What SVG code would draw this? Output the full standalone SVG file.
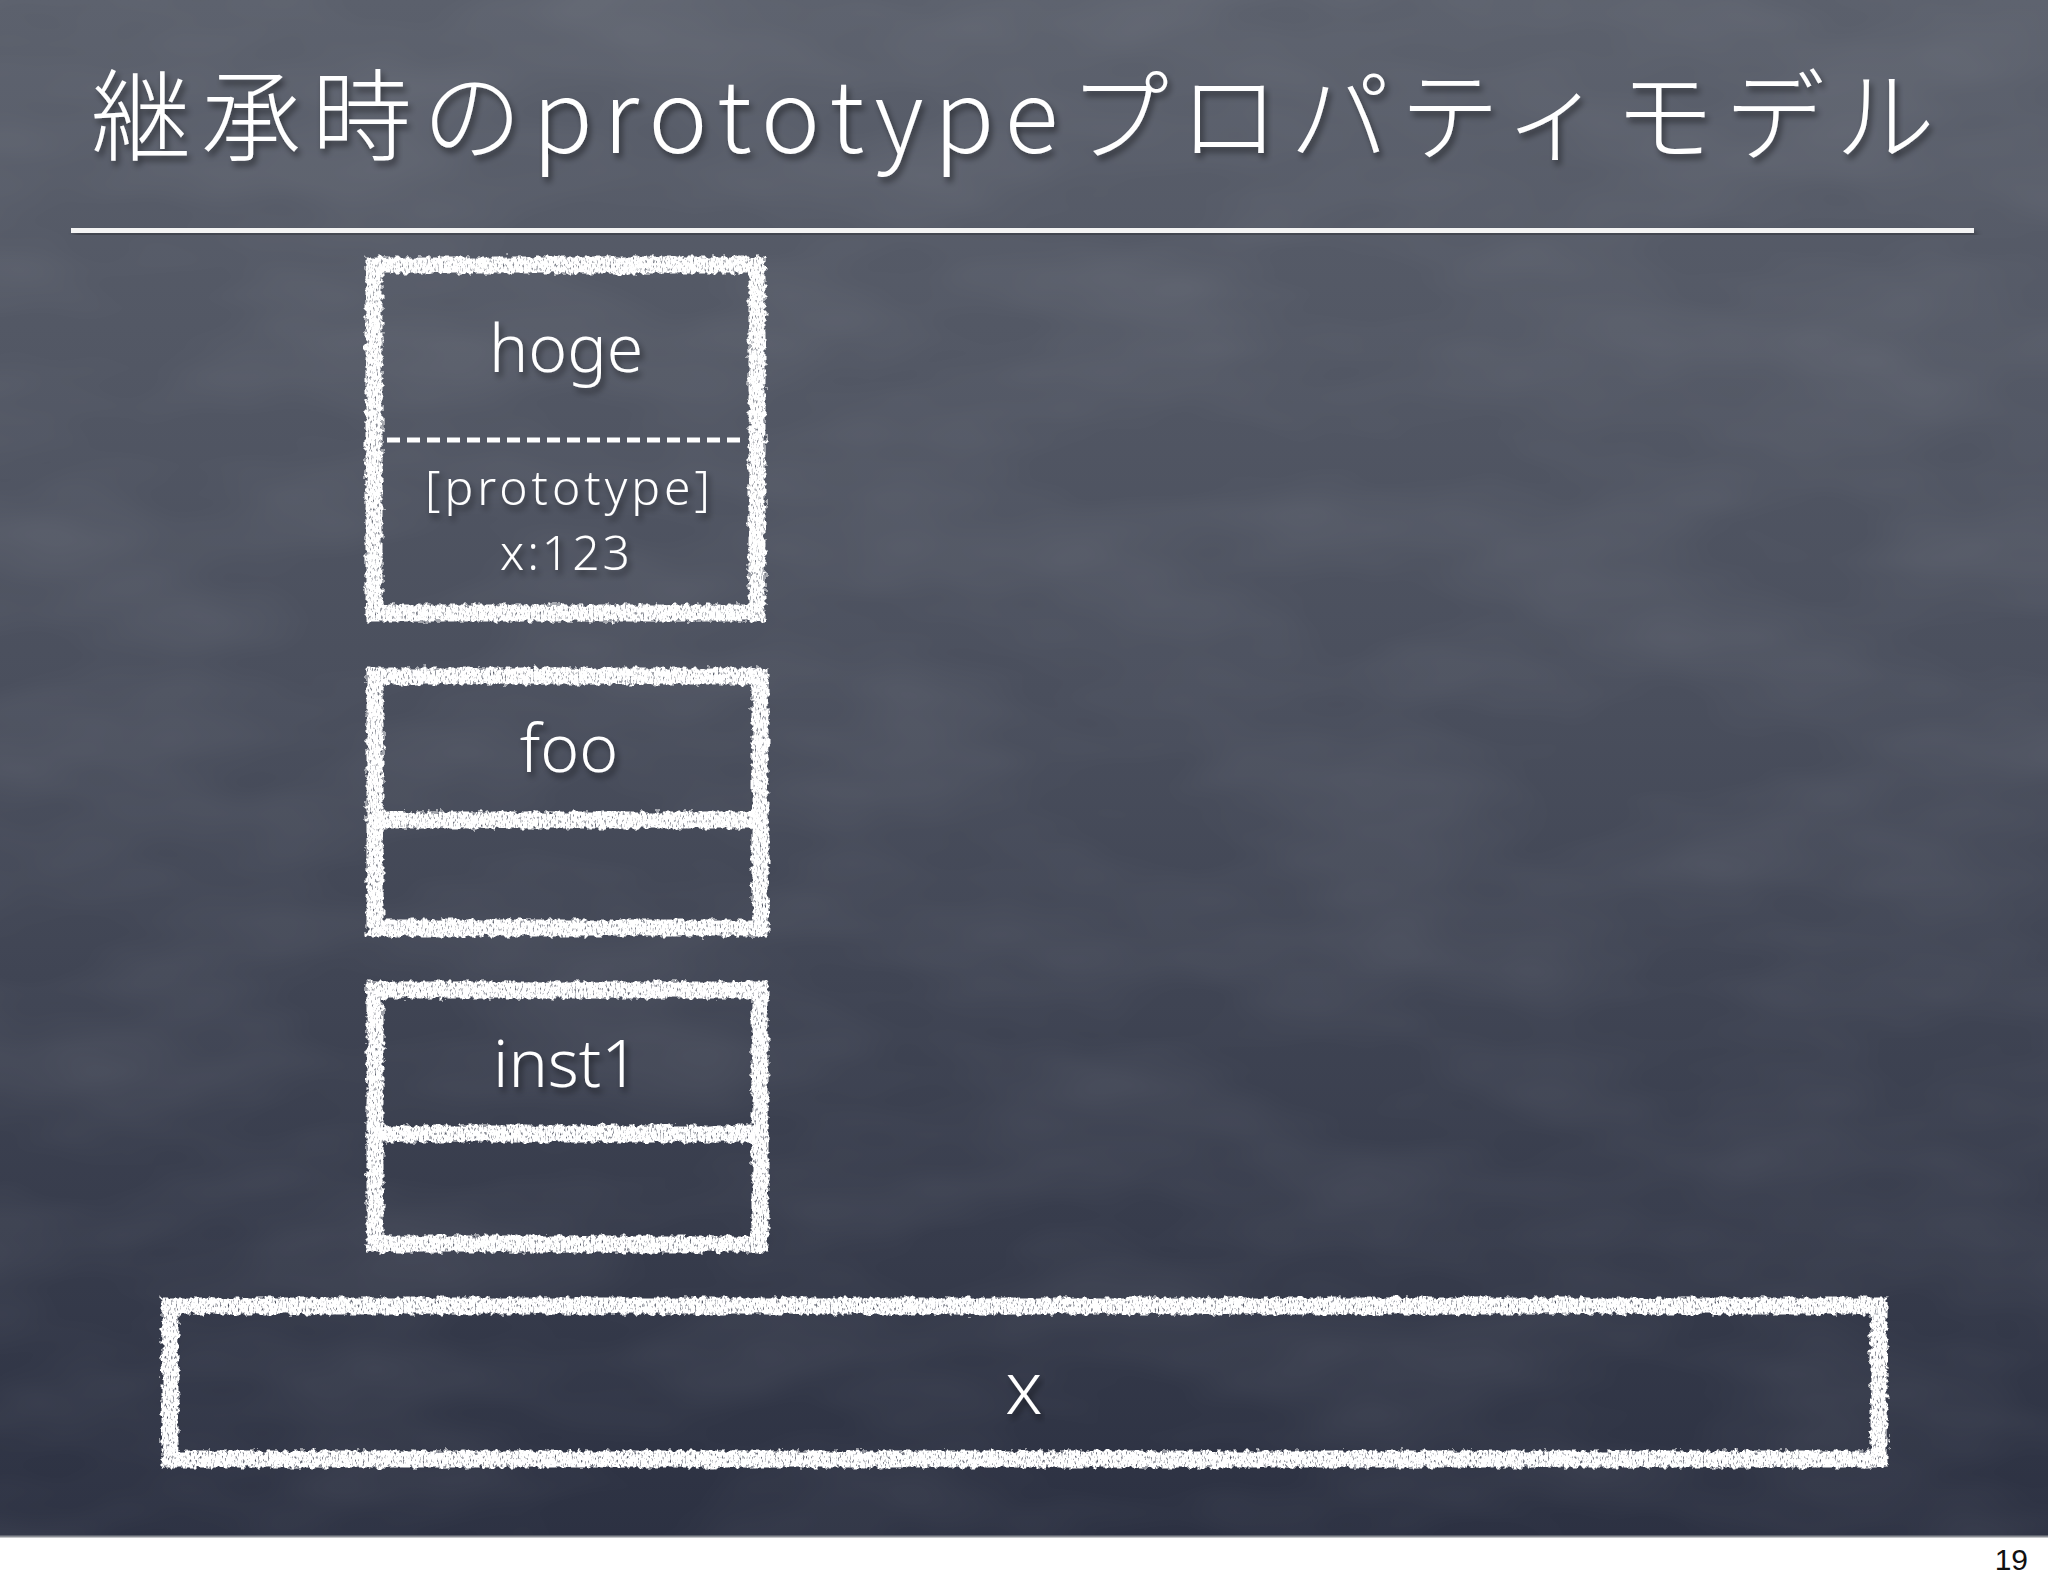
<svg xmlns="http://www.w3.org/2000/svg" width="2048" height="1587" viewBox="0 0 2048 1587">
  <defs>
    <linearGradient id="bg" x1="0" y1="0" x2="0" y2="1">
      <stop offset="0" stop-color="#5b606c"/>
      <stop offset="0.45" stop-color="#4a4f5d"/>
      <stop offset="1" stop-color="#2c3142"/>
    </linearGradient>
    <filter id="grain" x="0" y="0" width="100%" height="100%">
      <feTurbulence type="fractalNoise" baseFrequency="0.004 0.01" numOctaves="3" seed="5"/>
      <feColorMatrix type="matrix" values="0 0 0 0 1  0 0 0 0 1  0 0 0 0 1  0 0 0 0.12 -0.04"/>
    </filter>
    <filter id="chalk" filterUnits="userSpaceOnUse" x="0" y="0" width="2048" height="1587">
      <feTurbulence type="fractalNoise" baseFrequency="0.18" numOctaves="2" seed="3" result="n"/>
      <feDisplacementMap in="SourceGraphic" in2="n" scale="8" xChannelSelector="R" yChannelSelector="G" result="d"/>
      <feTurbulence type="fractalNoise" baseFrequency="0.6 0.25" numOctaves="2" seed="9" result="n2"/>
      <feColorMatrix in="n2" type="matrix" values="0 0 0 0 1  0 0 0 0 1  0 0 0 0 1  0 0 0 -3 2.7" result="mask"/>
      <feComposite in="d" in2="mask" operator="in"/>
    </filter>
    <filter id="shadow" x="-5%" y="-20%" width="110%" height="150%">
      <feDropShadow dx="3" dy="5" stdDeviation="3" flood-color="#000" flood-opacity="0.45"/>
    </filter>
    <style>
      .chalk { fill: none; stroke: #ffffff; stroke-width: 17; filter: url(#chalk); }
      .label { font-family: "Noto Sans", "Noto Sans CJK JP", sans-serif; font-weight: 300; fill: #ffffff; text-anchor: middle; filter: url(#shadow); }
      .big { font-size: 66px; }
      .small { font-size: 48px; text-anchor: start; }
      .title { font-family: "Noto Sans CJK JP", "Noto Sans", sans-serif; font-weight: 300; font-size: 100px; fill: #ffffff; filter: url(#shadow); }
    </style>
  </defs>

  <!-- background -->
  <rect x="0" y="0" width="2048" height="1587" fill="#ffffff"/>
  <rect x="0" y="0" width="2048" height="1536" fill="url(#bg)"/>
  <rect x="0" y="0" width="2048" height="1536" filter="url(#grain)"/>
  <line x1="0" y1="1536.5" x2="2048" y2="1536.5" stroke="#8a8d94" stroke-width="2"/>

  <!-- title -->
  <g id="title">
    <text class="title" x="91" y="153" textLength="1844" lengthAdjust="spacing">継承時のprototypeプロパティモデル</text>
    <rect x="71" y="228" width="1903" height="5" fill="#f4f4f4" filter="url(#shadow)"/>
  </g>

  <!-- nodes -->
  <g id="node-hoge">
    <rect class="chalk" x="374" y="265" width="383" height="348"/>
    <line x1="387" y1="440" x2="745" y2="440" stroke="#ffffff" stroke-width="5" stroke-dasharray="13 7"/>
    <text class="label big" x="566" y="372">hoge</text>
    <text class="label small" x="425" y="505" textLength="285" lengthAdjust="spacing">[prototype]</text>
    <text class="label small" x="500" y="570" textLength="130" lengthAdjust="spacing">x:123</text>
  </g>

  <g id="node-foo">
    <rect class="chalk" x="375" y="676" width="385" height="252"/>
    <line class="chalk" x1="375" y1="820" x2="760" y2="820"/>
    <text class="label big" x="569" y="772">foo</text>
  </g>

  <g id="node-inst1">
    <rect class="chalk" x="375" y="990" width="385" height="254"/>
    <line class="chalk" x1="375" y1="1134" x2="760" y2="1134"/>
    <text class="label big" x="566" y="1087">inst1</text>
  </g>

  <g id="node-x">
    <rect class="chalk" x="170" y="1306" width="1709" height="153"/>
    <text class="label" x="1024" y="1414" font-size="74px">x</text>
  </g>

  <g id="connectors"/>

  <!-- page number -->
  <text x="2028" y="1570" font-family="Liberation Sans, Arial, sans-serif" font-size="30" fill="#111111" text-anchor="end">19</text>
</svg>
